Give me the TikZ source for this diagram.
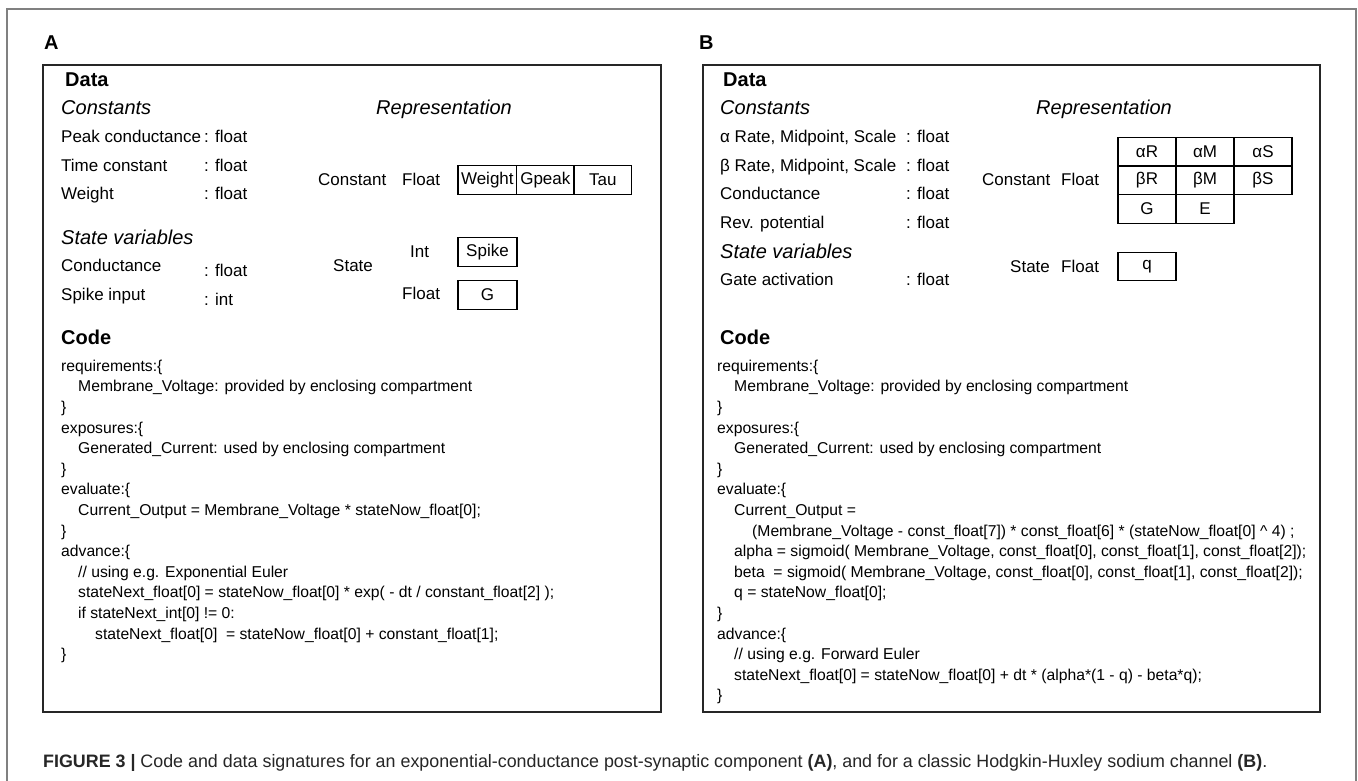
\documentclass[tikz,border=0pt]{standalone}
\usepackage{fontspec}
\setmainfont{Liberation Sans}
\usepackage{graphicx}
\newcommand{\fcode}{\fontsize{15.7}{19}\selectfont}
\newcommand{\flab}{\fontsize{17}{20}\selectfont}
\newcommand{\fhead}{\fontsize{20}{24}\selectfont\bfseries}
\newcommand{\fital}{\fontsize{20}{24}\selectfont\itshape}
\newcommand{\fcap}{\fontsize{18}{22}\selectfont}
\tikzset{
  lbl/.style={anchor=base west, inner sep=0pt, text=black},
  codetxt/.style={lbl, font=\fcode},
  labtxt/.style={lbl, font=\flab},
  headtxt/.style={lbl, font=\fhead},
  itxt/.style={lbl, font=\fital},
  cell/.style={draw=black, line width=1.3pt, minimum height=28.5pt, inner sep=0pt, font=\flab, anchor=center, text=black},
  panelbox/.style={draw=black!85, line width=1.7pt},
  frame/.style={draw=black!50, line width=1.1pt}
}
\begin{document}
\begin{tikzpicture}[x=1pt,y=-1pt]
\useasboundingbox[fill=white] (0,0) rectangle (1358,781);
% outer frame (open at bottom)
\draw[frame] (7,781) -- (7,9) -- (1356,9) -- (1356,781);
% panel labels
\node[headtxt] (labA) at (44,50) {A};
\node[headtxt] (labB) at (699,50) {B};
% panel boxes
\draw[panelbox] (43,65) rectangle (661,712);
\draw[panelbox] (703,65) rectangle (1320,712);

% ===== Panel A =====
\node[headtxt] (aData) at (65,86.6) {Data};
\node[itxt] (aConst) at (61,114.6) {Constants};
\node[labtxt] (aPeak) at (61,142.6) {Peak conductance};
\node[labtxt] (aPeakT) at (204,142.6) {: float};
\node[labtxt] (aTime) at (61,171.6) {Time constant};
\node[labtxt] (aTimeT) at (204,171.6) {: float};
\node[labtxt] (aWeight) at (61,199.6) {Weight};
\node[labtxt] (aWeightT) at (204,199.6) {: float};
\node[itxt] (aState) at (61,244.6) {State variables};
\node[labtxt] (aCond) at (61,271.6) {Conductance};
\node[labtxt] (aCondT) at (204,276.6) {: float};
\node[labtxt] (aSpike) at (61,300.6) {Spike input};
\node[labtxt] (aSpikeT) at (204,305.6) {: int};

\node[itxt] (aRep) at (376,114.6) {Representation};
\node[labtxt] (aRConst) at (318,185.6) {Constant};
\node[labtxt] (aRFloat) at (402,185.6) {Float};
\node[cell, minimum width=58.5pt] (aW) at (487.35,180) {Weight};
\node[cell, minimum width=57.3pt] (aG) at (545.35,180) {Gpeak};
\node[cell, minimum width=57.7pt] (aT) at (602.85,180) {Tau};
\node[labtxt] (aRInt) at (410,257.6) {Int};
\node[labtxt] (aRState) at (333,271.6) {State};
\node[labtxt] (aRFloat2) at (402,299.6) {Float};
\node[cell, minimum width=59pt] (aSp) at (487.5,252) {Spike};
\node[cell, minimum width=59pt] (aGG) at (487.5,295) {G};

\node[headtxt] (aCode) at (61,344.6) {Code};
\node[codetxt] (ac1) at (61,371.2) {requirements:\{};
\node[codetxt] (ac2) at (78,391.8) {Membrane\_Voltage: provided by enclosing compartment};
\node[codetxt] (ac3) at (61,412.4) {\}};
\node[codetxt] (ac4) at (61,433.0) {exposures:\{};
\node[codetxt] (ac5) at (78,453.6) {Generated\_Current: used by enclosing compartment};
\node[codetxt] (ac6) at (61,474.2) {\}};
\node[codetxt] (ac7) at (61,494.8) {evaluate:\{};
\node[codetxt] (ac8) at (78,515.4) {Current\_Output = Membrane\_Voltage * stateNow\_float[0];};
\node[codetxt] (ac9) at (61,536.0) {\}};
\node[codetxt] (ac10) at (61,556.6) {advance:\{};
\node[codetxt] (ac11) at (78,577.2) {// using e.g. Exponential Euler};
\node[codetxt] (ac12) at (78,597.8) {stateNext\_float[0] = stateNow\_float[0] * exp( - dt / constant\_float[2] );};
\node[codetxt] (ac13) at (78,618.4) {if stateNext\_int[0] != 0:};
\node[codetxt] (ac14) at (95,639.0) {stateNext\_float[0]\ \ = stateNow\_float[0] + constant\_float[1];};
\node[codetxt] (ac15) at (61,659.6) {\}};

% ===== Panel B =====
\node[headtxt] (bData) at (723,86.6) {Data};
\node[itxt] (bConst) at (720,114.6) {Constants};
\node[labtxt] (bAlpha) at (720,142.6) {α Rate, Midpoint, Scale};
\node[labtxt] (bAlphaT) at (906,142.6) {: float};
\node[labtxt] (bBeta) at (720,171.6) {β Rate, Midpoint, Scale};
\node[labtxt] (bBetaT) at (906,171.6) {: float};
\node[labtxt] (bCond) at (720,199.6) {Conductance};
\node[labtxt] (bCondT) at (906,199.6) {: float};
\node[labtxt] (bRev) at (720,228.6) {Rev. potential};
\node[labtxt] (bRevT) at (906,228.6) {: float};
\node[itxt] (bState) at (720,258.6) {State variables};
\node[labtxt] (bGate) at (720,285.6) {Gate activation};
\node[labtxt] (bGateT) at (906,285.6) {: float};

\node[itxt] (bRep) at (1036,114.6) {Representation};
\node[labtxt] (bRConst) at (982,185.6) {Constant};
\node[labtxt] (bRFloat) at (1061,185.6) {Float};
\node[cell, minimum width=58pt] (bAR) at (1147,151.5) {αR};
\node[cell, minimum width=58pt] (bAM) at (1205,151.5) {αM};
\node[cell, minimum width=58pt] (bAS) at (1263,151.5) {αS};
\node[cell, minimum width=58pt] (bBR) at (1147,180.5) {βR};
\node[cell, minimum width=58pt] (bBM) at (1205,180.5) {βM};
\node[cell, minimum width=58pt] (bBS) at (1263,180.5) {βS};
\node[cell, minimum width=58pt] (bG) at (1147,209) {G};
\node[cell, minimum width=58pt] (bE) at (1205,209) {E};
\node[labtxt] (bRState) at (1010,272.6) {State};
\node[labtxt] (bRFloat2) at (1061,272.6) {Float};
\node[cell, minimum width=58pt] (bQ) at (1147,266.5) {q};

\node[headtxt] (bCode) at (720,344.6) {Code};
\node[codetxt] (bc1) at (717,371.2) {requirements:\{};
\node[codetxt] (bc2) at (734,391.8) {Membrane\_Voltage: provided by enclosing compartment};
\node[codetxt] (bc3) at (717,412.4) {\}};
\node[codetxt] (bc4) at (717,433.0) {exposures:\{};
\node[codetxt] (bc5) at (734,453.6) {Generated\_Current: used by enclosing compartment};
\node[codetxt] (bc6) at (717,474.2) {\}};
\node[codetxt] (bc7) at (717,494.8) {evaluate:\{};
\node[codetxt] (bc8) at (734,515.4) {Current\_Output =};
\node[codetxt] (bc9) at (752,536.0) {(Membrane\_Voltage - const\_float[7]) * const\_float[6] * (stateNow\_float[0] \textasciicircum{} 4) ;};
\node[codetxt] (bc10) at (734,556.6) {alpha = sigmoid( Membrane\_Voltage, const\_float[0], const\_float[1], const\_float[2]);};
\node[codetxt] (bc11) at (734,577.2) {beta\ \ = sigmoid( Membrane\_Voltage, const\_float[0], const\_float[1], const\_float[2]);};
\node[codetxt] (bc12) at (734,597.8) {q = stateNow\_float[0];};
\node[codetxt] (bc13) at (717,618.4) {\}};
\node[codetxt] (bc14) at (717,639.0) {advance:\{};
\node[codetxt] (bc15) at (734,659.6) {// using e.g. Forward Euler};
\node[codetxt] (bc16) at (734,680.2) {stateNext\_float[0] = stateNow\_float[0] + dt * (alpha*(1 - q) - beta*q);};
\node[codetxt] (bc17) at (717,700.8) {\}};

% ===== Caption =====
\node[lbl, font=\fcap, text=black!85] (cap) at (43,767.5) {\resizebox{1224pt}{\height}{\textbf{FIGURE 3 |} Code and data signatures for an exponential-conductance post-synaptic component \textbf{(A)}, and for a classic Hodgkin-Huxley sodium channel \textbf{(B)}.}};
\end{tikzpicture}
\end{document}
